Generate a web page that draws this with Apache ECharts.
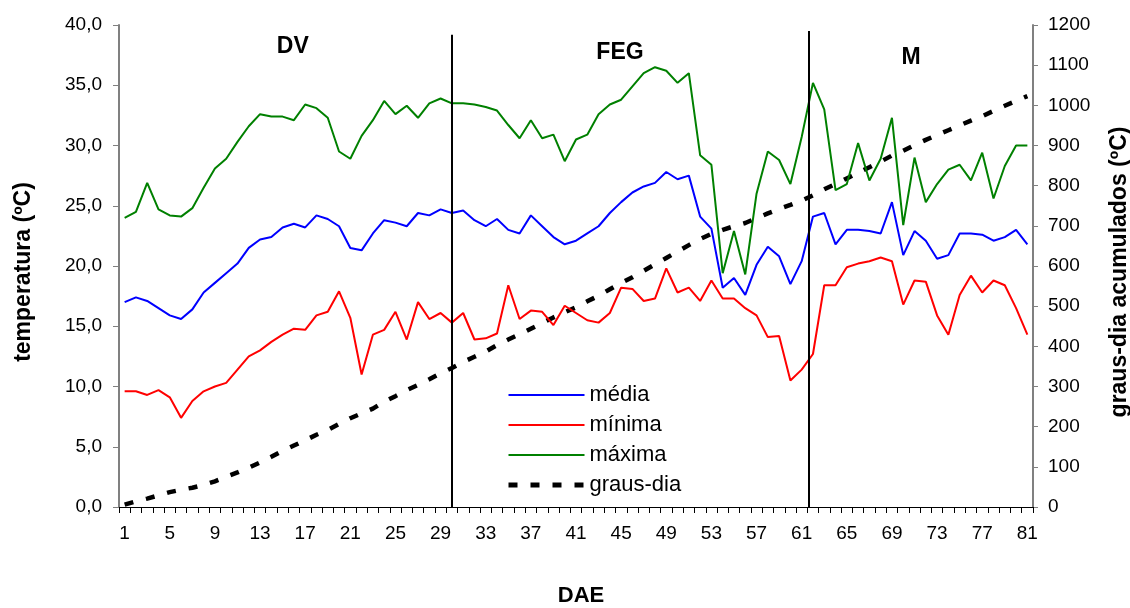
<!DOCTYPE html>
<html>
<head>
<meta charset="utf-8">
<script src="https://cdn.jsdelivr.net/npm/echarts@6/dist/echarts.min.js"></script>
<style>
html,body{margin:0;padding:0;background:#fff;}
#chart{width:1130px;height:608px;}
</style>
</head>
<body>
<div id="chart"></div>
<script>
// ---- data ----
const dae = Array.from({length: 81}, (_, i) => String(i + 1));

const media = [
  17.0,17.4,17.1,16.5,15.9,15.6,16.4,17.8,18.6,19.4,20.2,21.5,22.2,22.4,23.2,23.5,23.2,24.2,23.9,23.3,21.5,21.3,22.7,23.8,23.6,23.3,24.4,
  24.2,24.7,24.4,24.6,23.8,23.3,23.9,23.0,22.7,24.2,23.3,22.4,21.8,22.1,22.7,23.3,24.4,25.3,26.1,26.6,26.9,27.8,27.2,27.5,24.1,23.1,18.2,
  19.0,17.6,20.1,21.6,20.8,18.5,20.4,24.1,24.4,21.8,23.0,23.0,22.9,22.7,25.3,20.9,22.9,22.1,20.6,20.9,22.7,22.7,22.6,22.1,22.4,23.0,21.8
];

const minima = [
  9.6,9.6,9.3,9.7,9.1,7.4,8.8,9.6,10.0,10.3,11.4,12.5,13.0,13.7,14.3,14.8,14.7,15.9,16.2,17.9,15.7,11.0,14.3,14.7,16.2,13.9,17.0,
  15.6,16.1,15.3,16.1,13.9,14.0,14.4,18.4,15.6,16.3,16.2,15.1,16.7,16.1,15.5,15.3,16.1,18.2,18.1,17.1,17.3,19.8,17.8,18.2,17.1,18.8,17.3,
  17.3,16.5,15.9,14.1,14.2,10.5,11.4,12.7,18.4,18.4,19.9,20.2,20.4,20.7,20.4,16.8,18.8,18.7,15.9,14.3,17.6,19.2,17.8,18.8,18.4,16.5,14.3
];

const maxima = [
  24.0,24.5,26.9,24.7,24.2,24.1,24.8,26.5,28.1,28.9,30.3,31.6,32.6,32.4,32.4,32.1,33.4,33.1,32.3,29.5,28.9,30.8,32.1,33.7,32.6,33.3,32.3,
  33.5,33.9,33.5,33.5,33.4,33.2,32.9,31.7,30.6,32.1,30.6,30.9,28.7,30.5,30.9,32.6,33.4,33.8,34.9,36.0,36.5,36.2,35.2,36.0,29.2,28.4,19.4,
  22.9,19.3,26.0,29.5,28.8,26.8,30.7,35.2,33.0,26.3,26.8,30.2,27.1,28.9,32.3,23.4,29.0,25.3,26.8,28.0,28.4,27.1,29.4,25.6,28.3,30.0,30.0
];

const grausDia = [
  6,14,21,29,37,43,48,55,64,75,86,98,111,125,140,153,166,180,192,207,221,
  233,245,262,276,291,304,318,333,346,361,374,387,403,
  417,430,444,458,472,485,497,512,526,542,558,572,588,604,620,636,652,667,680,
  690,699,707,719,731,742,752,763,776,791,804,818,832,846,860,875,887,901,914,926,938,950,962,973,986,999,1011,1023
];

// phase boundaries (DAE) and phase labels
const phaseBounds = [30, 61.65];
const phaseTops = [39.2, 39.5];
const phaseNames = ['DV', 'FEG', 'M'];
const phaseLabelDae = [15.9, 44.9, 70.7];
const phaseLabelTemp = [38.2, 37.7, 37.3];

const FONT = '"Liberation Sans", Arial, sans-serif';
const DASH = [9, 13];

const chart = echarts.init(document.getElementById('chart'), null, {renderer: 'canvas'});

const option = {
  animation: false,
  backgroundColor: '#ffffff',
  textStyle: {fontFamily: FONT, color: '#000'},
  grid: {left: 119, top: 25, width: 914, height: 482, containLabel: false, outerBoundsMode: 'none'},
  legend: {
    data: [
      {name: 'média'},
      {name: 'mínima'},
      {name: 'máxima'},
      {name: 'graus-dia', lineStyle: {width: 5, type: DASH}}
    ],
    orient: 'vertical',
    left: 506,
    top: 384,
    padding: 0,
    itemWidth: 76,
    itemHeight: 14,
    itemGap: 8,
    itemStyle: {opacity: 0},
    textStyle: {fontFamily: FONT, fontSize: 22, color: '#000'}
  },
  xAxis: [
    {
      type: 'category',
      data: dae,
      boundaryGap: true,
      name: 'DAE',
      nameLocation: 'middle',
      nameGap: 78,
      nameTextStyle: {fontFamily: FONT, fontSize: 22, fontWeight: 'bold', color: '#000', padding: [0, 0, 0, 10]},
      axisLine: {show: true, lineStyle: {color: '#000', width: 1}},
      axisTick: {show: true, interval: 0, length: 6, lineStyle: {color: '#000', width: 1}},
      axisLabel: {interval: 3, margin: 17, fontSize: 19, fontFamily: FONT, color: '#000'},
      splitLine: {show: false}
    },
    {
      type: 'value',
      min: 0.5,
      max: 81.5,
      show: false,
      position: 'bottom'
    }
  ],
  yAxis: [
    {
      type: 'value',
      min: 0,
      max: 40,
      interval: 5,
      name: 'temperatura (ºC)',
      nameLocation: 'middle',
      nameRotate: 90,
      nameGap: 84,
      nameTextStyle: {fontFamily: FONT, fontSize: 23, fontWeight: 'bold', color: '#000', padding: [0, 12, 0, 0]},
      axisLine: {show: true, lineStyle: {color: '#808080', width: 2}},
      axisTick: {show: true, length: 6, lineStyle: {color: '#808080', width: 1}},
      axisLabel: {
        margin: 17, fontSize: 19, fontFamily: FONT, color: '#000',
        formatter: v => v.toFixed(1).replace('.', ',')
      },
      splitLine: {show: false}
    },
    {
      type: 'value',
      min: 0,
      max: 1200,
      interval: 100,
      position: 'right',
      name: 'graus-dia acumulados (ºC)',
      nameLocation: 'middle',
      nameRotate: 90,
      nameGap: 75,
      nameTextStyle: {fontFamily: FONT, fontSize: 23, fontWeight: 'bold', color: '#000', padding: [0, 12, 0, 0]},
      axisLine: {show: true, lineStyle: {color: '#808080', width: 2}},
      axisTick: {show: true, length: 5, lineStyle: {color: '#808080', width: 1}},
      axisLabel: {margin: 15, fontSize: 19, fontFamily: FONT, color: '#000', formatter: v => String(v)},
      splitLine: {show: false}
    }
  ],
  series: [
    {
      name: 'graus-dia', type: 'line', yAxisIndex: 1, data: grausDia,
      symbol: 'none', z: 1,
      lineStyle: {color: '#000', width: 4.5, type: DASH},
      itemStyle: {color: '#000'}
    },
    {
      name: 'mínima', type: 'line', data: minima, symbol: 'none', z: 2,
      lineStyle: {color: '#ff0000', width: 2}, itemStyle: {color: '#ff0000'}
    },
    {
      name: 'média', type: 'line', data: media, symbol: 'none', z: 3,
      lineStyle: {color: '#0000ff', width: 2}, itemStyle: {color: '#0000ff'}
    },
    {
      name: 'máxima', type: 'line', data: maxima, symbol: 'none', z: 4,
      lineStyle: {color: '#008000', width: 2}, itemStyle: {color: '#008000'}
    },
    {
      name: 'phases', type: 'line', xAxisIndex: 1, yAxisIndex: 0,
      data: [], symbol: 'none', silent: true, z: 5,
      markLine: {
        silent: true,
        symbol: 'none',
        label: {show: false},
        lineStyle: {color: '#000', width: 2, type: 'solid'},
        data: phaseBounds.map((b, i) => [{coord: [b, 0]}, {coord: [b, phaseTops[i]]}])
      },
      markPoint: {
        silent: true,
        symbol: 'circle',
        symbolSize: 1,
        itemStyle: {color: 'rgba(0,0,0,0)'},
        label: {show: true, position: 'inside', formatter: '{b}', fontFamily: FONT, fontSize: 23, fontWeight: 'bold', color: '#000'},
        data: phaseNames.map((n, i) => ({name: n, coord: [phaseLabelDae[i], phaseLabelTemp[i]]}))
      }
    }
  ]
};

chart.setOption(option);
</script>
</body>
</html>
